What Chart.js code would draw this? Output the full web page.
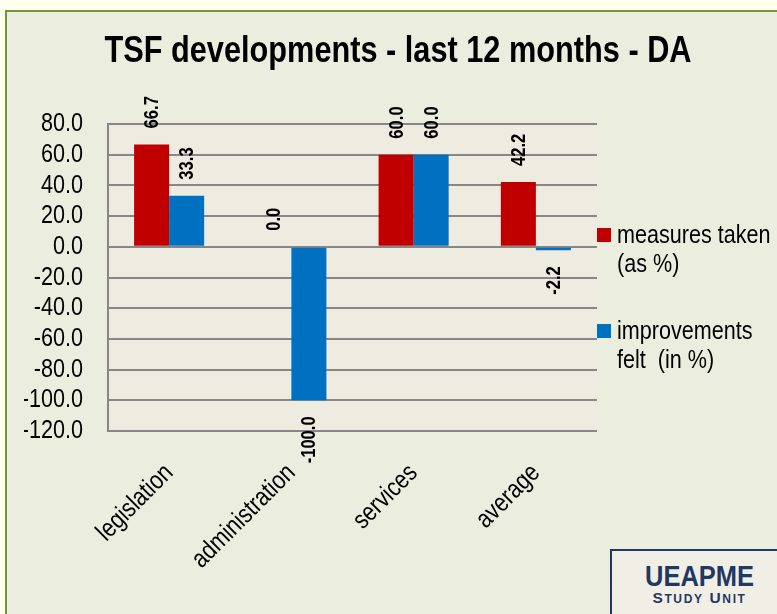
<!DOCTYPE html>
<html>
<head>
<meta charset="utf-8">
<script src="https://cdn.jsdelivr.net/npm/chart.js@4"></script>
<style>
  html, body { margin:0; padding:0; }
  body { width:777px; height:614px; overflow:hidden; background:#ffffee; position:relative; }
  #frame { position:absolute; left:5px; top:10px; width:820px; height:700px; border:2px solid #76923c; background:#ebeedf; }
  #wrap { position:absolute; left:0; top:0; width:777px; height:614px; }
  #badge { position:absolute; left:610px; top:549px; width:175px; height:100px; border:2px solid #1f3864; background:#f1efe5; color:#1f3864; font-family:'Liberation Sans', Arial, sans-serif; font-weight:bold; text-align:center; z-index:5; }
  #badge .b1 { font-size:26px; line-height:26px; margin-top:12px; transform:scale(0.98,1.12); }
  #badge .b2 { line-height:16px; margin-top:1px; letter-spacing:1.6px; }
  #badge .big { font-size:15.5px; }
  #badge .sm { font-size:12px; }
</style>
</head>
<body>
<div id="frame"></div>
<div id="wrap"><canvas id="c" width="777" height="614"></canvas></div>
<div id="badge"><div class="b1">UEAPME</div><div class="b2"><span class="big">S</span><span class="sm">TUDY</span> <span class="big">U</span><span class="sm">NIT</span></div></div>
<script>
// ---- data ----
const categories = ['legislation', 'administration', 'services', 'average'];
const measuresTaken = [66.7, 0.0, 60.0, 42.2];
const improvementsFelt = [33.3, -100.0, 60.0, -2.2];
const seriesLabelLines = [['measures taken', '(as %)'], ['improvements', 'felt  (in %)']];
const seriesColors = ['#c00000', '#0070c0'];
const chartTitle = 'TSF developments - last 12 months - DA';
const yMin = -120, yMax = 80, yStep = 20;

const FONT = "'Liberation Sans', Arial, sans-serif";
const NARROW_SCALE = 0.83; // emulate a condensed (Arial Narrow-like) face

const canvas = document.getElementById('c');
const c2d = canvas.getContext('2d');
const origFillText = CanvasRenderingContext2D.prototype.fillText;
c2d.fillText = function (t, x, y, mw) {
  this.save();
  this.translate(x, y);
  this.scale(NARROW_SCALE, 1);
  if (mw === undefined || mw === null) origFillText.call(this, t, 0, 0);
  else origFillText.call(this, t, 0, 0, mw / NARROW_SCALE);
  this.restore();
};

const plotBg = {
  id: 'plotBg',
  beforeDraw(chart) {
    const {ctx, chartArea: a} = chart;
    ctx.save();
    ctx.fillStyle = '#eeece1';
    ctx.fillRect(a.left, a.top, a.right - a.left, a.bottom - a.top);
    ctx.restore();
  }
};

const valueLabels = {
  id: 'valueLabels',
  afterDatasetsDraw(chart) {
    const ctx = chart.ctx;
    const gap = 16;
    chart.data.datasets.forEach((ds, i) => {
      const meta = chart.getDatasetMeta(i);
      meta.data.forEach((el, j) => {
        const v = ds.data[j];
        ctx.save();
        ctx.font = 'bold 20px ' + FONT;
        ctx.fillStyle = '#000';
        ctx.textBaseline = 'middle';
        ctx.translate(el.x + 1, v >= 0 ? el.y - gap : el.y + gap);
        ctx.rotate(-Math.PI / 2);
        ctx.textAlign = v >= 0 ? 'left' : 'right';
        ctx.fillText(v.toFixed(1), 0, 0);
        ctx.restore();
      });
    });
  }
};

const sideLegend = {
  id: 'sideLegend',
  afterDraw(chart, args, opts) {
    const ctx = chart.ctx;
    const x = chart.chartArea.right;
    ctx.save();
    ctx.font = '26px ' + FONT;
    ctx.textBaseline = 'alphabetic';
    ctx.textAlign = 'left';
    chart.data.datasets.forEach((ds, i) => {
      const top = opts.top + i * opts.itemGap;
      ctx.fillStyle = ds.backgroundColor;
      ctx.fillRect(x, top, 14, 14);
      ctx.fillStyle = '#000';
      seriesLabelLines[i].forEach((line, k) => {
        ctx.fillText(line, x + 20, top + 15 + k * 29);
      });
    });
    ctx.restore();
  }
};

new Chart(canvas, {
  type: 'bar',
  data: {
    labels: categories,
    datasets: [
      { label: seriesLabelLines[0].join(' '), data: measuresTaken, backgroundColor: seriesColors[0], yAxisID: 'y' },
      { label: seriesLabelLines[1].join(' '), data: improvementsFelt, backgroundColor: seriesColors[1], yAxisID: 'y' }
    ]
  },
  options: {
    responsive: false,
    animation: false,
    devicePixelRatio: 1,
    layout: { padding: { left: 24, right: 5, top: 0, bottom: 0 } },
    datasets: { bar: { categoryPercentage: 0.573, barPercentage: 1.0, borderWidth: 0 } },
    plugins: {
      legend: { display: false },
      tooltip: { enabled: false },
      title: {
        display: true,
        text: chartTitle,
        color: '#000',
        font: { family: FONT, size: 37, weight: 'bold' },
        padding: { top: 30, bottom: 49.6 }
      },
      sideLegend: { top: 228, itemGap: 96 }
    },
    scales: {
      x: {
        grid: { display: false },
        border: { display: false },
        ticks: {
          color: '#000',
          font: { family: FONT, size: 26 },
          minRotation: 45, maxRotation: 45,
          autoSkip: false,
          padding: 19
        },
        afterFit(s) { s.height = 183; }
      },
      y: {
        position: 'left',
        min: yMin, max: yMax,
        grid: { color: '#878787', lineWidth: 2, drawTicks: false },
        border: { display: true, color: '#878787', width: 2 },
        ticks: {
          stepSize: yStep,
          autoSkip: false,
          color: '#000',
          font: { family: FONT, size: 26, lineHeight: 1 },
          padding: 25,
          callback: v => Number(v).toFixed(1)
        },
        afterFit(s) { s.width = 84; }
      },
      y2: {
        position: 'right',
        display: true,
        grid: { display: false },
        border: { display: false },
        ticks: { display: false },
        afterFit(s) { s.width = 175; }
      }
    }
  },
  plugins: [plotBg, valueLabels, sideLegend]
});
</script>
</body>
</html>
